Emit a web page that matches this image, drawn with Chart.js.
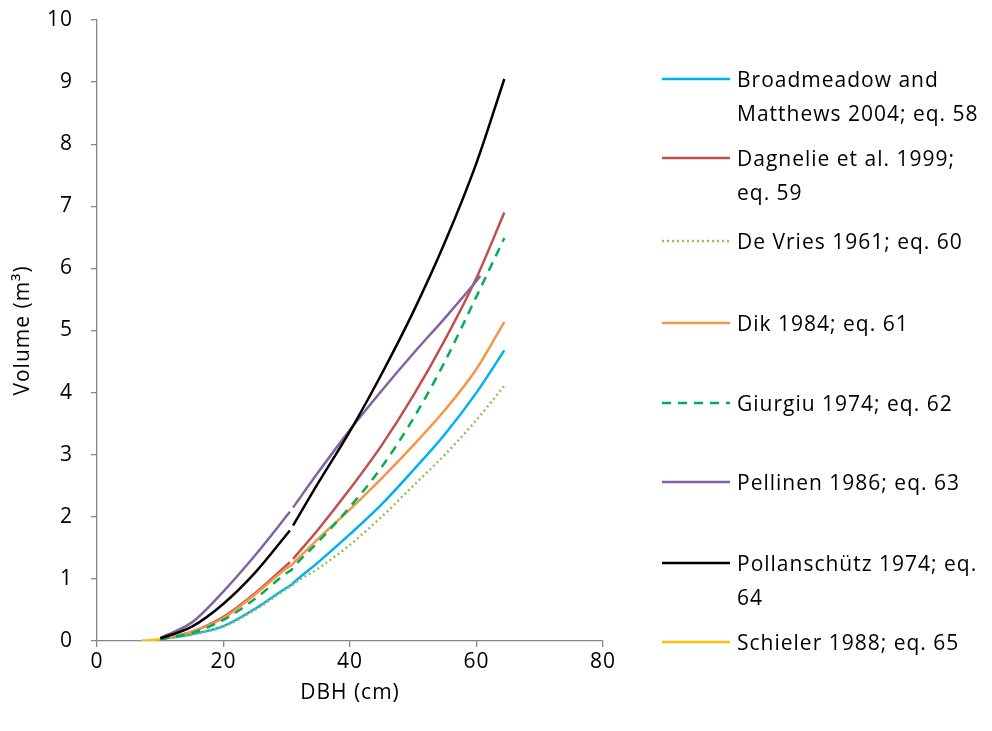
<!DOCTYPE html>
<html>
<head>
<meta charset="utf-8">
<script src="https://cdn.jsdelivr.net/npm/chart.js@4.4.0/dist/chart.umd.min.js"></script>
<style>
  html, body { margin: 0; padding: 0; background: #fff; }
  #wrap { position: relative; width: 992px; height: 731px; }
  #c { position: absolute; left: 0; top: 0; }
  #legend { position: absolute; left: 0; top: 0; width: 992px; height: 731px; pointer-events: none;
    font-family: "Open Sans", sans-serif; font-size: 21px; letter-spacing: 1px; color: #000; }
  .item { position: absolute; left: 662px; }
  .item svg { position: absolute; left: 0; }
  .item .txt { position: absolute; left: 75px; white-space: nowrap; line-height: 34px; }
</style>
</head>
<body>
<div id="wrap">
  <canvas id="c" width="992" height="731"></canvas>
  <div id="legend"></div>
</div>
<script>
// ---- data ----
const dbh = [10, 15, 20, 25, 30.5, 30.7, 31, 35, 40, 45, 50, 55, 60, 64.4];
const broadmeadow  = [0.03, 0.11, 0.24, 0.52, 0.89, 0.90, 0.93, 1.27, 1.72, 2.20, 2.75, 3.33, 4.00, 4.68];
const dagnelie     = [0.03, 0.15, 0.39, 0.77, 1.27, null, 1.32, 1.80, 2.45, 3.15, 3.95, 4.85, 5.85, 6.90];
const devries      = [0.03, 0.10, 0.23, 0.50, 0.87, 0.88, 0.91, 1.17, 1.55, 2.00, 2.50, 3.00, 3.56, 4.11];
const dik          = [0.03, 0.15, 0.37, 0.75, 1.21, 1.22, 1.25, 1.65, 2.12, 2.62, 3.15, 3.72, 4.38, 5.14];
const giurgiu      = [0.03, 0.13, 0.34, 0.68, 1.13, 1.14, 1.18, 1.60, 2.16, 2.80, 3.58, 4.50, 5.55, 6.49];
const pollanschutz = [0.04, 0.23, 0.60, 1.10, 1.78, null, 1.86, 2.55, 3.38, 4.30, 5.30, 6.42, 7.70, 9.05];
const dbhPellinen  = [10, 15, 20, 25, 30.5, 30.7, 31, 35, 40, 45, 50, 55, 60, 60.6];
const pellinen     = [0.05, 0.30, 0.80, 1.38, 2.08, null, 2.15, 2.72, 3.40, 4.03, 4.63, 5.20, 5.80, 5.88];
const dbhSchieler  = [7, 8, 9, 10];
const schieler     = [0.005, 0.01, 0.02, 0.03];

const seriesNames = [
  ["Broadmeadow and", "Matthews 2004; eq. 58"],
  ["Dagnelie et al. 1999;", "eq. 59"],
  ["De Vries 1961; eq. 60"],
  ["Dik 1984; eq. 61"],
  ["Giurgiu 1974; eq. 62"],
  ["Pellinen 1986; eq. 63"],
  ["Pollanschütz 1974; eq.", "64"],
  ["Schieler 1988; eq. 65"]
];
const xTicks = [0, 20, 40, 60, 80];
const yTicks = [0, 1, 2, 3, 4, 5, 6, 7, 8, 9, 10];

// ---- styles ----
const colors = ["#00B0F0", "#C0504D", "#9BBB59", "#F79646", "#00B050", "#8064A2", "#000000", "#FFC000"];
const dashes = [[], [], [2, 3], [], [9, 7], [], [], []];
const legendY = [79, 158, 241, 323, 403, 482, 563, 642];

function pts(xs, ys) { return xs.map((x, i) => ({ x: x, y: ys[i] })); }
const dataSets = [
  pts(dbh, broadmeadow), pts(dbh, dagnelie), pts(dbh, devries), pts(dbh, dik),
  pts(dbh, giurgiu), pts(dbhPellinen, pellinen), pts(dbh, pollanschutz), pts(dbhSchieler, schieler)
];

const datasets = dataSets.map((d, i) => ({
  label: seriesNames[i].join(" "),
  data: d,
  borderColor: colors[i],
  backgroundColor: colors[i],
  borderWidth: 2.5,
  borderDash: dashes[i],
  pointRadius: 0,
  fill: false,
  spanGaps: false,
  cubicInterpolationMode: 'monotone',
  order: i === 7 ? -1 : 8 - i
}));

const FONT = "'Open Sans', sans-serif";
const axisColor = "#868686";

const spacingPlugin = {
  id: 'spacing',
  beforeDraw(chart) { chart.ctx.letterSpacing = '1px'; }
};

new Chart(document.getElementById('c'), {
  type: 'line',
  data: { datasets: datasets },
  plugins: [spacingPlugin],
  options: {
    responsive: false,
    animation: false,
    layout: { padding: { left: 10, right: 389, top: 20, bottom: 25 } },
    plugins: { legend: { display: false }, tooltip: { enabled: false } },
    scales: {
      x: {
        type: 'linear', min: 0, max: 80,
        afterBuildTicks: s => { s.ticks = xTicks.map(v => ({ value: v })); },
        afterFit: s => { s.height = 65; s.paddingLeft = 0; s.paddingRight = 0; },
        grid: { display: true, drawOnChartArea: false, drawTicks: true, tickLength: 6, color: axisColor, lineWidth: 1.3 },
        border: { display: true, color: axisColor, width: 1.3 },
        ticks: { color: "#000", font: { family: FONT, size: 21 }, padding: 2 },
        title: { display: true, text: "DBH (cm)", color: "#000", font: { family: FONT, size: 21 }, padding: { top: 0, bottom: 0 } }
      },
      y: {
        type: 'linear', min: 0, max: 10,
        afterBuildTicks: s => { s.ticks = yTicks.map(v => ({ value: v })); },
        afterFit: s => { s.width = 87; s.paddingTop = 0; s.paddingBottom = 0; },
        grid: { display: true, drawOnChartArea: false, drawTicks: true, tickLength: 6, color: axisColor, lineWidth: 1.3 },
        border: { display: true, color: axisColor, width: 1.3 },
        ticks: { color: "#000", font: { family: FONT, size: 21 }, padding: 18 },
        title: { display: true, text: "Volume (m³)", color: "#000", font: { family: FONT, size: 21 }, padding: { top: 0, bottom: 0 } }
      }
    }
  }
});

// ---- HTML legend ----
const leg = document.getElementById('legend');
seriesNames.forEach((lines, i) => {
  const it = document.createElement('div');
  it.className = 'item';
  it.style.top = (legendY[i] - 17) + 'px';
  const dash = dashes[i].length ? ` stroke-dasharray="${dashes[i].join(' ')}"` : '';
  it.innerHTML = `<svg width="70" height="34" style="top:0"><line x1="0" y1="17" x2="68" y2="17" stroke="${colors[i]}" stroke-width="2.5"${dash}/></svg>` +
    `<div class="txt">${lines.join('<br>')}</div>`;
  leg.appendChild(it);
});
</script>
</body>
</html>
